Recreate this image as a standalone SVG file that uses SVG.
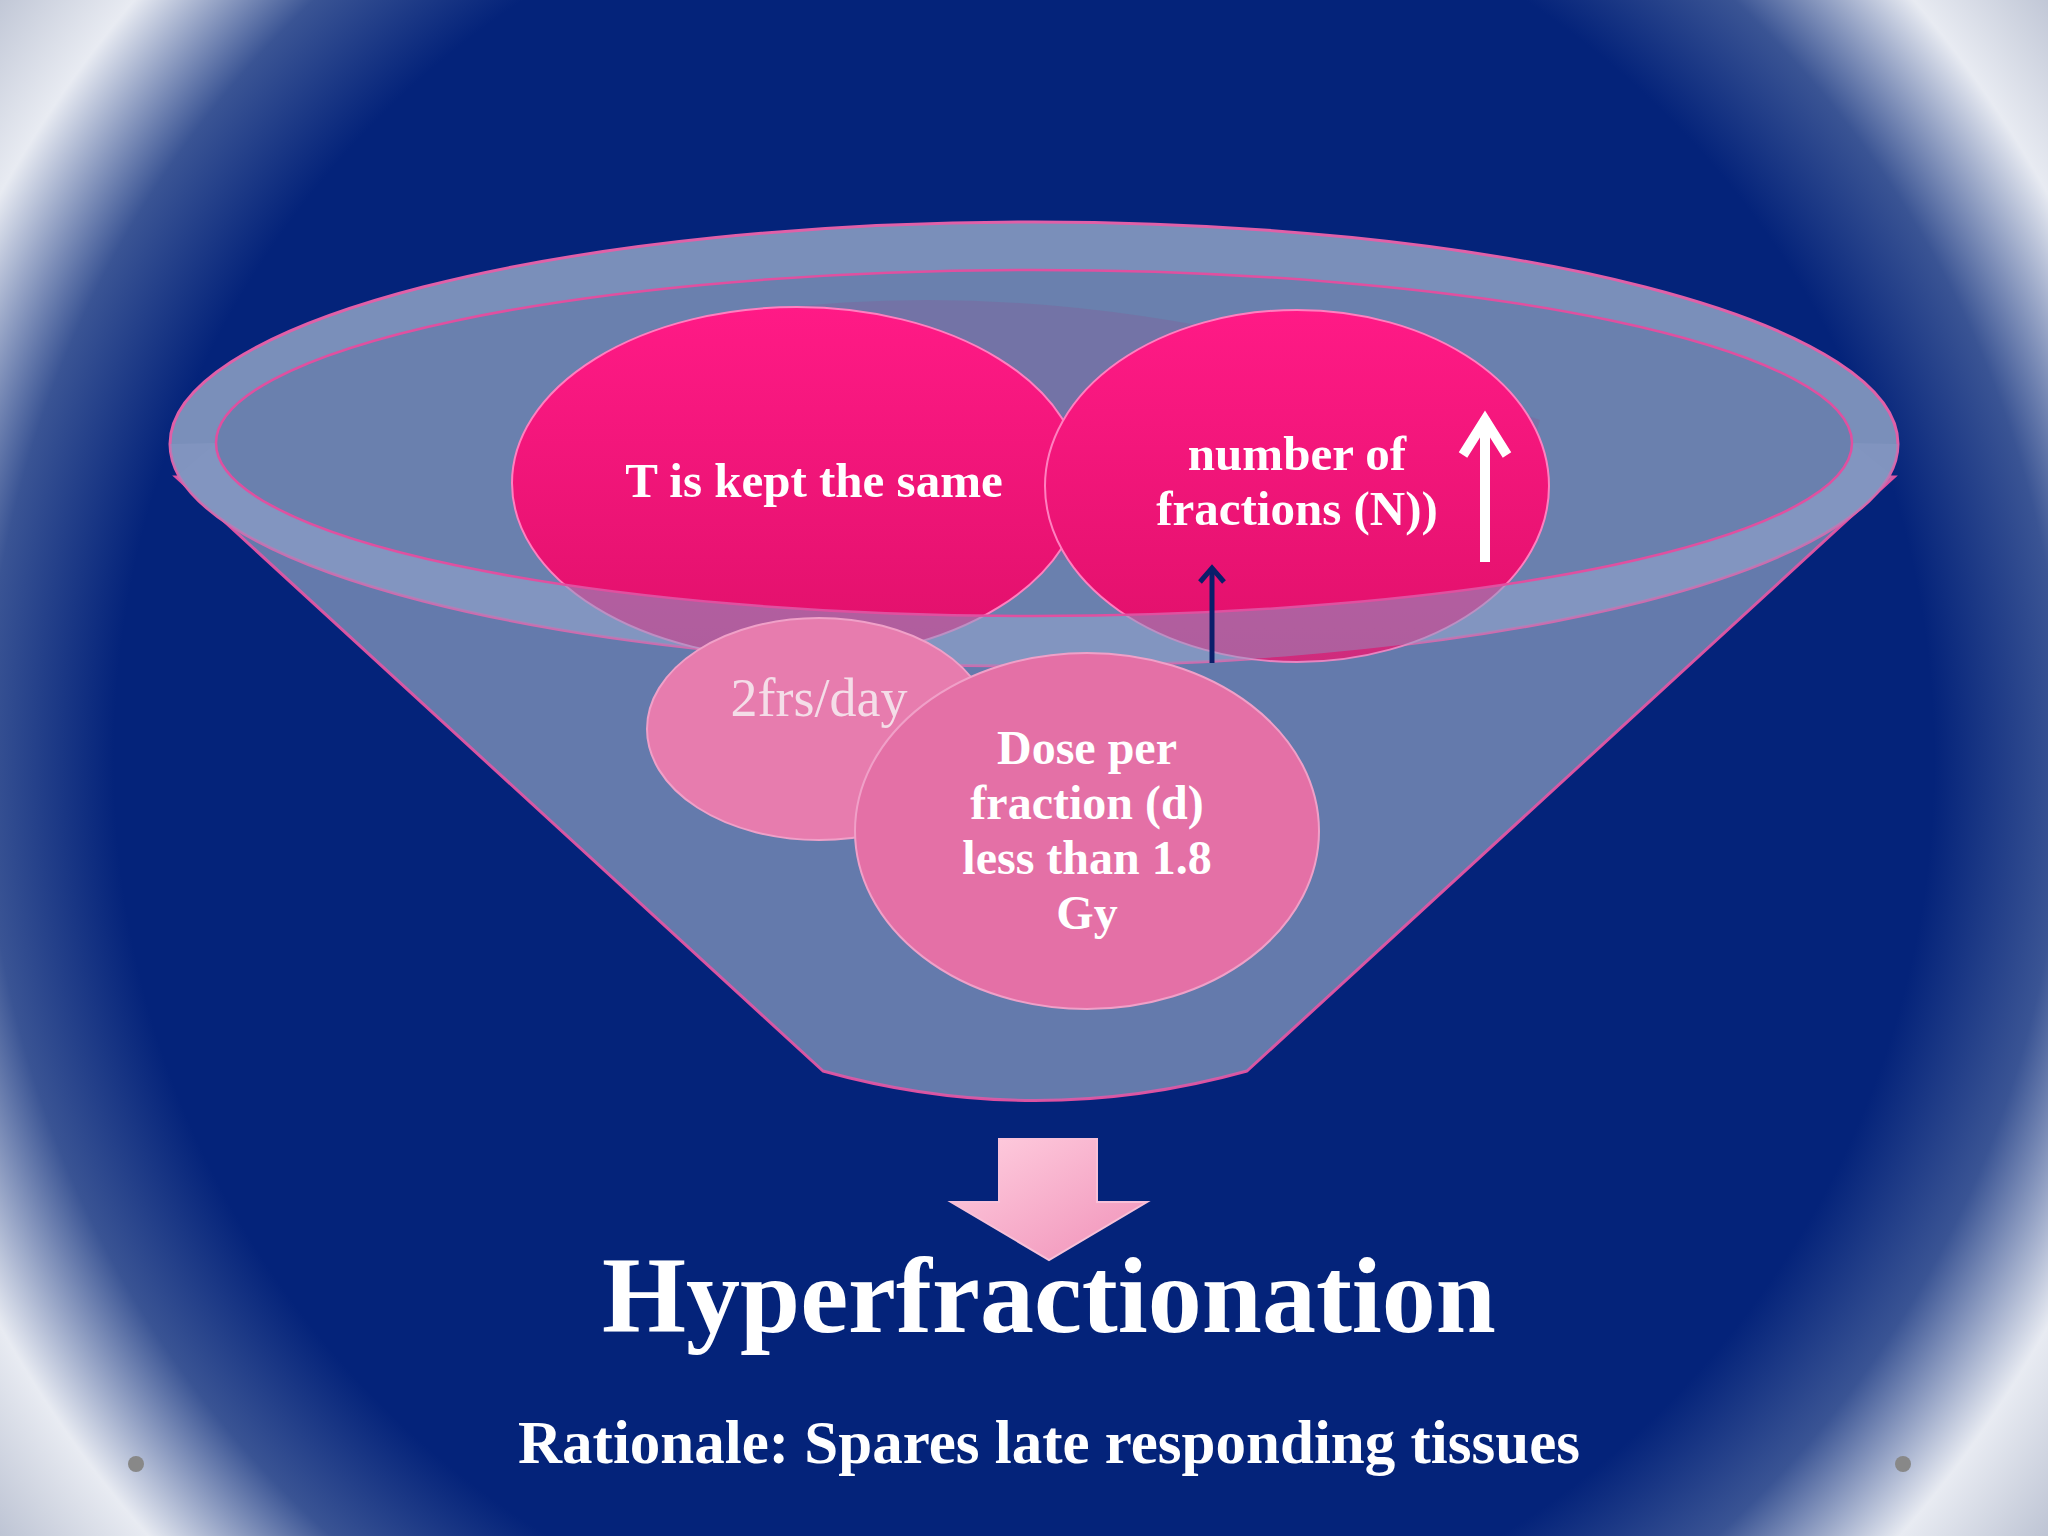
<svg xmlns="http://www.w3.org/2000/svg" width="2048" height="1536" viewBox="0 0 2048 1536">
<defs>
<radialGradient id="bg" cx="1024" cy="760" r="1300" gradientUnits="userSpaceOnUse">
<stop offset="0" stop-color="#04237a"/><stop offset="0.7" stop-color="#04237a"/><stop offset="0.8" stop-color="#3a5494"/><stop offset="0.9" stop-color="#e8ebf2"/><stop offset="1" stop-color="#b8bfd0"/>
</radialGradient>
<linearGradient id="pk" x1="0" y1="0" x2="0" y2="1"><stop offset="0" stop-color="#ff1a86"/><stop offset="1" stop-color="#e0106a"/></linearGradient>
<linearGradient id="ar" x1="0" y1="0" x2="1" y2="1"><stop offset="0" stop-color="#ffd0e0"/><stop offset="1" stop-color="#f090b8"/></linearGradient>
<style>
.t{font-family:"Liberation Serif","DejaVu Serif",serif;font-weight:bold;fill:#fff;text-anchor:middle}
.n{font-family:"Liberation Serif","DejaVu Serif",serif;fill:#f4dde8;text-anchor:middle}
</style>
</defs>
<rect width="2048" height="1536" fill="url(#bg)"/>
<g id="funnel-back">
<path d="M176,477 L823,1071 Q1035,1130 1247,1071 L1894,477 Z" fill="#5a72a6" stroke="#e050a0" stroke-width="3"/>
<ellipse cx="1034" cy="444" rx="864" ry="222" fill="#7a8fba" stroke="#e060a8" stroke-width="3"/>
<ellipse cx="1034" cy="443" rx="818" ry="173" fill="#6a80ae"/>
<path d="M650,330 Q1050,240 1540,420 L1500,560 L700,560 Z" fill="#7a6aa0" opacity="0.6"/>
</g>
<g id="n1"><ellipse cx="797" cy="483" rx="285" ry="176" fill="url(#pk)" stroke="#ff80c0" stroke-width="2"/><text class="t" x="814" y="497" font-size="49">T is kept the same</text></g>
<g id="n2"><ellipse cx="1297" cy="486" rx="252" ry="176" fill="url(#pk)" stroke="#ff80c0" stroke-width="2"/><text class="t" x="1297" y="470" font-size="49">number of</text><text class="t" x="1297" y="525" font-size="49">fractions (N))</text></g>
<g id="front">
<path d="M216,443 A818,173 0 0 0 1852,443 L1894,477 L1247,1071 Q1035,1130 823,1071 L176,477 Z" fill="#8a9cc8" fill-opacity="0.2"/>
<path d="M170,444 A864,222 0 0 0 1898,444 L1852,443 A818,173 0 0 1 216,443 Z" fill="#8a9cc6" fill-opacity="0.45"/>
<ellipse cx="1034" cy="443" rx="818" ry="173" fill="none" stroke="#e050a0" stroke-width="2.5"/>
</g>
<g id="n3"><ellipse cx="819" cy="729" rx="172" ry="111" fill="#e77cae" stroke="#f0a0c8" stroke-width="2"/><text class="n" x="819" y="716" font-size="54">2frs/day</text></g>
<g id="n4"><ellipse cx="1087" cy="831" rx="232" ry="178" fill="#e470a6" stroke="#f0a0c8" stroke-width="2"/>
<text class="t" x="1087" y="764" font-size="48" fill="#f8e6ee">Dose per</text><text class="t" x="1087" y="819" font-size="48">fraction (d)</text><text class="t" x="1087" y="874" font-size="48">less than 1.8</text><text class="t" x="1087" y="929" font-size="48">Gy</text></g>
<g id="connectors">
<line x1="1212" y1="663" x2="1212" y2="568" stroke="#0a1e6a" stroke-width="5"/>
<path d="M1200,582 L1212,568 L1224,582" stroke="#0a1e6a" stroke-width="5" fill="none"/>
<line x1="1485" y1="562" x2="1485" y2="418" stroke="#fff" stroke-width="10"/>
<path d="M1463,455 L1485,420 L1507,455" stroke="#fff" stroke-width="10" fill="none"/>
<path d="M999,1139 L1097,1139 L1097,1202 L1147,1202 L1049,1260 L951,1202 L999,1202 Z" fill="url(#ar)" stroke="#f8c0d8" stroke-width="2"/>
</g>
<text class="t" x="1049" y="1332" font-size="108">Hyperfractionation</text>
<text class="t" x="1049" y="1463" font-size="61">Rationale: Spares late responding tissues</text>
<circle cx="136" cy="1464" r="8" fill="#888"/><circle cx="1903" cy="1464" r="8" fill="#888"/>
</svg>
